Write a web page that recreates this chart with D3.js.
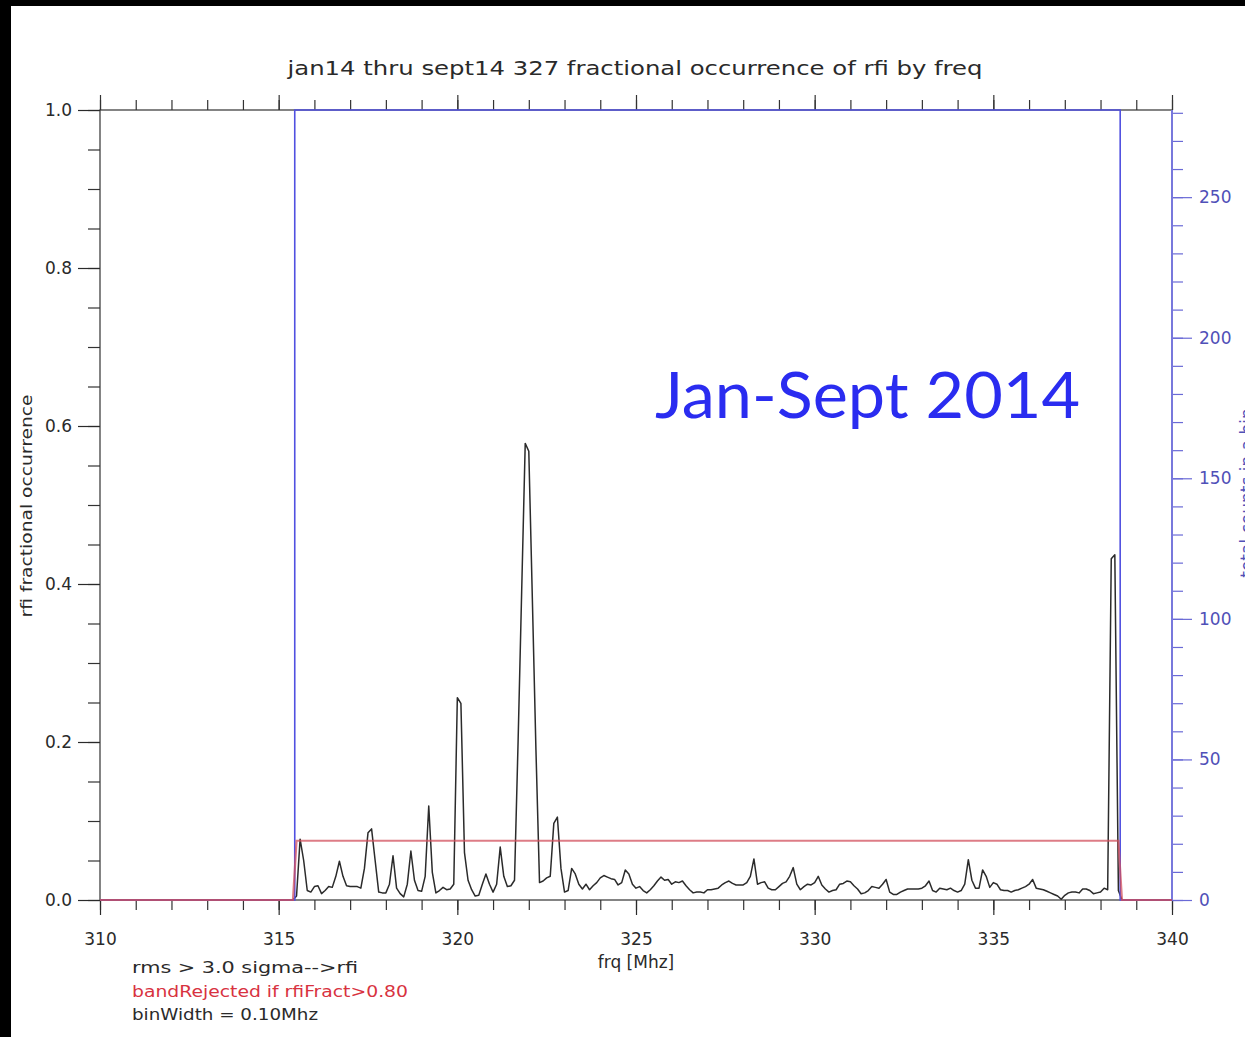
<!DOCTYPE html>
<html>
<head>
<meta charset="utf-8">
<script src="https://cdn.jsdelivr.net/npm/d3@7"></script>
<style>
  body { margin: 0; background: #fff; }
  svg { display: block; }
  text { font-family: "DejaVu Sans", sans-serif; }
</style>
</head>
<body>
<div id="chart"></div>
<script>
// frequency bins, 0.1 MHz wide, inside the band
var binWidth = 0.1;
var firstBin = 315.5;

// rfi fractional occurrence per bin (315.5 .. 338.5 MHz)
var rfiFract = [
  0.005,0.077,0.05,0.012,0.01,0.017,0.018,0.008,0.012,0.017,
  0.016,0.03,0.049,0.03,0.018,0.017,0.017,0.017,0.015,0.04,
  0.085,0.09,0.05,0.01,0.009,0.009,0.02,0.056,0.015,0.008,
  0.004,0.02,0.062,0.025,0.012,0.011,0.03,0.119,0.035,0.009,
  0.012,0.016,0.013,0.014,0.02,0.256,0.249,0.06,0.025,0.013,
  0.005,0.006,0.02,0.033,0.02,0.01,0.02,0.067,0.03,0.017,
  0.018,0.025,0.2,0.39,0.578,0.568,0.38,0.19,0.022,0.024,
  0.028,0.03,0.097,0.105,0.04,0.01,0.012,0.04,0.033,0.02,
  0.014,0.02,0.013,0.018,0.022,0.028,0.031,0.029,0.027,0.026,
  0.019,0.022,0.038,0.033,0.02,0.015,0.017,0.012,0.009,0.013,
  0.018,0.024,0.029,0.025,0.026,0.02,0.023,0.022,0.024,0.018,
  0.013,0.009,0.01,0.01,0.009,0.013,0.013,0.014,0.015,0.019,
  0.022,0.024,0.021,0.019,0.019,0.019,0.022,0.03,0.052,0.02,
  0.022,0.023,0.015,0.013,0.013,0.017,0.021,0.023,0.03,0.041,
  0.02,0.013,0.017,0.02,0.019,0.022,0.03,0.019,0.014,0.01,
  0.012,0.013,0.02,0.021,0.024,0.023,0.018,0.014,0.008,0.009,
  0.012,0.017,0.016,0.015,0.02,0.026,0.01,0.007,0.007,0.01,
  0.012,0.014,0.014,0.014,0.014,0.015,0.018,0.024,0.012,0.01,
  0.015,0.014,0.013,0.015,0.012,0.01,0.012,0.02,0.051,0.025,
  0.015,0.015,0.038,0.03,0.016,0.022,0.02,0.013,0.012,0.012,
  0.01,0.012,0.013,0.015,0.017,0.02,0.026,0.015,0.014,0.013,
  0.011,0.009,0.007,0.005,0.001,0.006,0.009,0.01,0.01,0.009,
  0.014,0.014,0.012,0.008,0.009,0.01,0.015,0.013,0.432,0.437,
  0.012
];

// zero stretches outside the band
var outsideLow = [310, 315.4];
var outsideHigh = [338.6, 340];

// total counts per bin (step line, right axis)
var countEdges = [310, 315.45, 338.55, 340];
var countLevels = [0, 281, 0];

// band rejection level line
var rejectFreq = [310, 315.4, 315.5, 338.5, 338.6, 340];
var rejectLevel = [0, 0, 0.075, 0.075, 0, 0];

// tick values
var xMajor = [310, 315, 320, 325, 330, 335, 340];
var xMinor = d3.range(310, 341, 1);
var yMajor = [0, 0.2, 0.4, 0.6, 0.8, 1.0];
var yMinor = d3.range(0, 1.0001, 0.05);
var rMajor = [0, 50, 100, 150, 200, 250];
var rMinor = d3.range(0, 281, 10);

var notes = ["rms > 3.0 sigma-->rfi", "bandRejected if rfiFract>0.80", "binWidth = 0.10Mhz"];

var svgWidth = 1245, svgHeight = 1037;
var margin = { top: 110, right: 73, bottom: 137, left: 100 };
var width = svgWidth - margin.left - margin.right;
var height = svgHeight - margin.top - margin.bottom;

var svg = d3.select("#chart").append("svg")
  .attr("width", svgWidth)
  .attr("height", svgHeight);

svg.append("rect").attr("width", svgWidth).attr("height", svgHeight).attr("fill", "#fff");
// black photo border top / left
svg.append("rect").attr("width", svgWidth).attr("height", 6).attr("fill", "#000");
svg.append("rect").attr("width", 11).attr("height", svgHeight).attr("fill", "#000");

var g = svg.append("g").attr("transform", `translate(${margin.left},${margin.top})`);

var x = d3.scaleLinear().domain([310, 340]).range([0, width]);
var y = d3.scaleLinear().domain([0, 1]).range([height, 0]);
var yR = d3.scaleLinear().domain([0, 281]).range([height, 0]);

var axisColor = "#333";
var blueAxis = "#6a6ad6";
var blueText = "#5050b8";

function styleAxis(sel, color, size) {
  sel.select(".domain").remove();
  sel.selectAll("line").attr("stroke", color).attr("stroke-width", 1.2);
  sel.selectAll("text").attr("fill", color).style("font-size", size + "px");
}

// bottom axis
g.append("g").attr("transform", `translate(0,${height})`)
  .call(d3.axisBottom(x).tickValues(xMinor).tickSize(10).tickFormat(""))
  .call(s => styleAxis(s, axisColor, 17));
g.append("g").attr("transform", `translate(0,${height})`)
  .call(d3.axisBottom(x).tickValues(xMajor).tickSize(15).tickPadding(18).tickFormat(d3.format("d")))
  .call(s => styleAxis(s, "#2a2a2a", 17));

// top axis
g.append("g")
  .call(d3.axisTop(x).tickValues(xMinor).tickSize(10).tickFormat(""))
  .call(s => styleAxis(s, axisColor, 17));
g.append("g")
  .call(d3.axisTop(x).tickValues(xMajor).tickSize(15).tickFormat(""))
  .call(s => styleAxis(s, axisColor, 17));

// left axis
g.append("g")
  .call(d3.axisLeft(y).tickValues(yMinor).tickSize(12).tickFormat(""))
  .call(s => styleAxis(s, axisColor, 17));
g.append("g")
  .call(d3.axisLeft(y).tickValues(yMajor).tickSize(22).tickPadding(6).tickFormat(d3.format(".1f")))
  .call(s => styleAxis(s, "#2a2a2a", 17));

// frame
g.append("rect")
  .attr("width", width).attr("height", height)
  .attr("fill", "none").attr("stroke", axisColor).attr("stroke-width", 1.2);

// right axis (counts)
var rightG = g.append("g").attr("transform", `translate(${width},0)`);
rightG.append("g")
  .call(d3.axisRight(yR).tickValues(rMinor).tickSize(11).tickFormat(""))
  .call(s => styleAxis(s, blueAxis, 17));
rightG.append("g")
  .call(d3.axisRight(yR).tickValues(rMajor).tickSize(20).tickPadding(7).tickFormat(d3.format("d")))
  .call(s => styleAxis(s, blueText, 17));
rightG.selectAll("line").attr("stroke", blueAxis);
rightG.append("line")
  .attr("y1", 0).attr("y2", height)
  .attr("stroke", "#7878dc").attr("stroke-width", 2);

// black fractional occurrence line
var fractPts = [];
outsideLow.forEach(f => fractPts.push([f, 0]));
rfiFract.forEach((v, i) => fractPts.push([firstBin + i * binWidth, v]));
outsideHigh.forEach(f => fractPts.push([f, 0]));

var line = d3.line().x(d => x(d[0])).y(d => y(d[1]));

g.append("path")
  .datum(fractPts)
  .attr("fill", "none")
  .attr("stroke", "#2b2b2b")
  .attr("stroke-width", 1.5)
  .attr("stroke-linejoin", "round")
  .attr("d", line);

// blue total counts (step)
var countPts = countLevels.map((n, i) => [countEdges[i], n]);
countPts.push([countEdges[countEdges.length - 1], countLevels[countLevels.length - 1]]);

g.append("path")
  .datum(countPts)
  .attr("fill", "none")
  .attr("stroke", "#5050e0")
  .attr("stroke-width", 1.6)
  .attr("d", d3.line().curve(d3.curveStepAfter).x(d => x(d[0])).y(d => yR(d[1])));

// red rejection level
g.append("path")
  .datum(rejectFreq.map((f, i) => [f, rejectLevel[i]]))
  .attr("fill", "none")
  .attr("stroke", "#d2505e")
  .attr("stroke-opacity", 0.75)
  .attr("stroke-width", 2.2)
  .attr("d", line);

// title
svg.append("text")
  .attr("x", 635).attr("y", 75)
  .attr("text-anchor", "middle")
  .attr("textLength", 695).attr("lengthAdjust", "spacingAndGlyphs")
  .style("font-size", "20px").attr("fill", "#2a2a2a")
  .text("jan14 thru sept14 327 fractional occurrence of rfi by freq");

// axis titles
svg.append("text")
  .attr("x", 636).attr("y", 968)
  .attr("text-anchor", "middle")
  .style("font-size", "17px").attr("fill", "#2a2a2a")
  .text("frq [Mhz]");

svg.append("text")
  .attr("transform", "translate(32,506) rotate(-90)")
  .attr("text-anchor", "middle")
  .attr("textLength", 223).attr("lengthAdjust", "spacingAndGlyphs")
  .style("font-size", "16px").attr("fill", "#2a2a2a")
  .text("rfi fractional occurrence");

// right axis title, cut off at the picture edge
svg.append("text")
  .attr("transform", "translate(1253,493) rotate(-90)")
  .attr("text-anchor", "middle")
  .style("font-size", "17px").attr("fill", blueText)
  .text("total counts in a bin");

// notes under the x axis
var noteColors = ["#2a2a2a", "#d8323f", "#2a2a2a"];
var noteWidths = [226, 276, 186];
notes.forEach(function(t, i) {
  svg.append("text")
    .attr("x", 132).attr("y", 973 + i * 23.5)
    .attr("textLength", noteWidths[i]).attr("lengthAdjust", "spacingAndGlyphs")
    .style("font-size", "16px").attr("fill", noteColors[i])
    .text(t);
});

// big overlay label
svg.append("text")
  .attr("x", 655).attr("y", 418)
  .attr("textLength", 425).attr("lengthAdjust", "spacingAndGlyphs")
  .style("font-family", "Lato, 'Open Sans', sans-serif")
  .style("font-size", "64px")
  .attr("fill", "#2a2cf0")
  .text("Jan-Sept 2014");
</script>
</body>
</html>
